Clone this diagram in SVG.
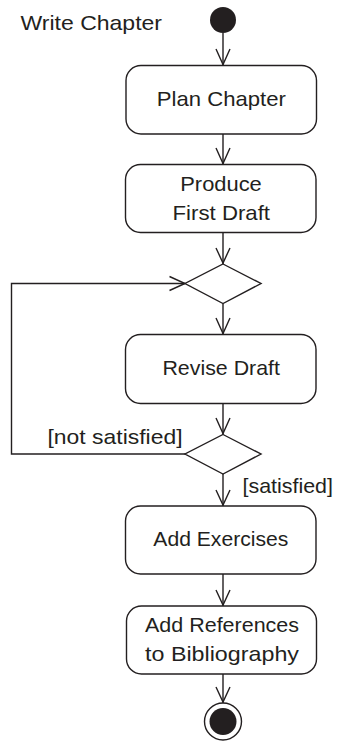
<svg xmlns="http://www.w3.org/2000/svg" width="338" height="742" viewBox="0 0 338 742">
<style>
.box{fill:#fff;stroke:#231f20;stroke-width:1.4}
.dia{fill:#fff;stroke:#231f20;stroke-width:1.4}
.ln{fill:none;stroke:#231f20;stroke-width:1.4}
.ah{fill:none;stroke:#231f20;stroke-width:1.4}
text{font-family:"Liberation Sans","Open Sans",sans-serif;font-size:21px;fill:#231f20}
.c{text-anchor:middle}
</style>
<rect width="338" height="742" fill="#fff"/>
<g id="connectors">
<line class="ln" x1="223" y1="33" x2="223" y2="65.5"/>
<polyline class="ah" points="216,49 223,64.5 230,49"/>
<line class="ln" x1="223" y1="134" x2="223" y2="164.5"/>
<polyline class="ah" points="216,148 223,163.5 230,148"/>
<line class="ln" x1="223" y1="232.5" x2="223" y2="264"/>
<polyline class="ah" points="216,248 223,263 230,248"/>
<line class="ln" x1="223" y1="303.5" x2="223" y2="334.5"/>
<polyline class="ah" points="216,318 223,333.5 230,318"/>
<line class="ln" x1="223" y1="403.5" x2="223" y2="434.5"/>
<polyline class="ah" points="216,418 223,433.5 230,418"/>
<line class="ln" x1="223" y1="474" x2="223" y2="506"/>
<polyline class="ah" points="216,490 223,505 230,490"/>
<line class="ln" x1="223" y1="574" x2="223" y2="606"/>
<polyline class="ah" points="216,590 223,605 230,590"/>
<line class="ln" x1="223" y1="674" x2="223" y2="703"/>
<polyline class="ah" points="216,687 223,702 230,687"/>
<polyline class="ln" points="185,454 11.5,454 11.5,283.5 185,283.5"/>
<polyline class="ah" points="169.5,276.5 185,283.5 169.5,290.5"/>
<text x="47.5" y="443.5" textLength="135" lengthAdjust="spacingAndGlyphs">[not satisfied]</text>
<text x="242.5" y="493" textLength="90.5" lengthAdjust="spacingAndGlyphs">[satisfied]</text>
</g>
<g id="title"><text x="20.5" y="30" textLength="141.5" lengthAdjust="spacingAndGlyphs">Write Chapter</text></g>
<g id="start"><circle cx="223" cy="20" r="13" fill="#231f20"/></g>
<g id="plan"><rect class="box" x="126" y="65.5" width="190.5" height="68.5" rx="15"/><text class="c" x="221.3" y="106" textLength="129" lengthAdjust="spacingAndGlyphs">Plan Chapter</text></g>
<g id="produce"><rect class="box" x="125.5" y="164.5" width="190.5" height="68" rx="15"/><text class="c" x="221" y="191" textLength="81.5" lengthAdjust="spacingAndGlyphs">Produce</text><text class="c" x="221.3" y="220" textLength="97.5" lengthAdjust="spacingAndGlyphs">First Draft</text></g>
<g id="merge"><polygon class="dia" points="223,264 261,283.5 223,303.5 185,283.5"/></g>
<g id="revise"><rect class="box" x="125.5" y="334.5" width="190.5" height="69" rx="15"/><text class="c" x="221.2" y="375" textLength="117.5" lengthAdjust="spacingAndGlyphs">Revise Draft</text></g>
<g id="decision"><polygon class="dia" points="223,434.5 261,454 223,474 185,454"/></g>
<g id="exercises"><rect class="box" x="125.5" y="506" width="190.5" height="68" rx="15"/><text class="c" x="220.8" y="546" textLength="135" lengthAdjust="spacingAndGlyphs">Add Exercises</text></g>
<g id="references"><rect class="box" x="126.5" y="606" width="190" height="68" rx="15"/><text class="c" x="222" y="631.5" textLength="154" lengthAdjust="spacingAndGlyphs">Add References</text><text class="c" x="222" y="660.5" textLength="154" lengthAdjust="spacingAndGlyphs">to Bibliography</text></g>
<g id="end"><circle cx="223" cy="721.5" r="18.5" fill="#fff" stroke="#231f20" stroke-width="1.4"/><circle cx="223" cy="721.5" r="13.5" fill="#231f20"/></g>
</svg>
